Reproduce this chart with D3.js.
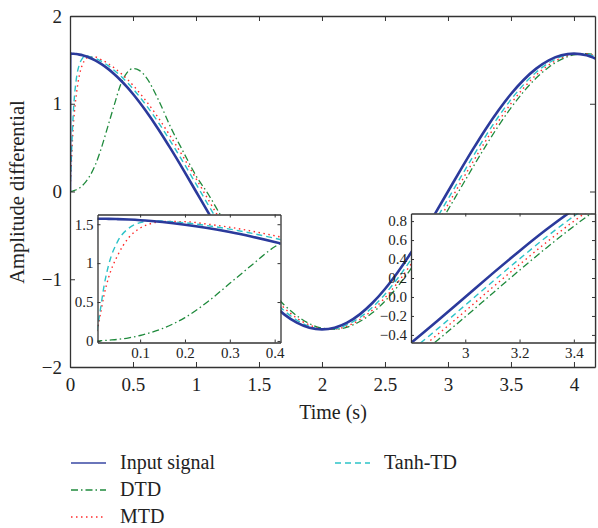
<!DOCTYPE html>
<html>
<head>
<meta charset="utf-8">
<script src="https://cdn.jsdelivr.net/npm/d3@7"></script>
<style>
  body { margin: 0; background: #fff; }
  svg text { font-family: "Liberation Serif", "DejaVu Serif", serif; fill: #222; }
</style>
</head>
<body>
<div id="chart"></div>
<script>
// time samples (s), shared by every series
const time = [0, 0.002, 0.01, 0.02, 0.03, 0.05, 0.075, 0.1, 0.125, 0.15, 0.2, 0.25, 0.3, 0.35, 0.4, 0.45, 0.5, 0.55, 0.6,
  0.7, 0.8, 0.9, 1.0, 1.1, 1.2, 1.3, 1.4, 1.5, 1.6, 1.7, 1.8, 1.9, 2.0, 2.1, 2.2, 2.3, 2.4, 2.5, 2.6, 2.7, 2.8, 2.9,
  3.0, 3.1, 3.2, 3.3, 3.4, 3.5, 3.6, 3.7, 3.8, 3.9, 4.0, 4.1, 4.17];

const inputSignal = [0, 1.571, 1.571, 1.570, 1.569, 1.566, 1.560, 1.552, 1.541, 1.528, 1.494, 1.451, 1.400, 1.339, 1.271, 1.195, 1.111, 1.020, 0.923,
  0.713, 0.485, 0.246, 0, -0.246, -0.485, -0.713, -0.923, -1.111, -1.271, -1.400, -1.494, -1.552, -1.571, -1.552, -1.494, -1.400, -1.271, -1.111, -0.923, -0.713, -0.485, -0.246,
  0, 0.246, 0.485, 0.713, 0.923, 1.111, 1.271, 1.400, 1.494, 1.552, 1.571, 1.552, 1.515];

const dtd = [0, 0, 0.002, 0.005, 0.01, 0.02, 0.04, 0.07, 0.11, 0.16, 0.30, 0.50, 0.74, 0.98, 1.21, 1.35, 1.40, 1.38, 1.31,
  1.05, 0.73, 0.45, 0.18, -0.037, -0.282, -0.520, -0.746, -0.953, -1.137, -1.293, -1.416, -1.506, -1.557, -1.571, -1.545, -1.482, -1.383, -1.249, -1.084, -0.893, -0.680, -0.450,
  -0.209, 0.037, 0.282, 0.520, 0.746, 0.953, 1.137, 1.293, 1.416, 1.506, 1.557, 1.571, 1.557];

const mtd = [0, 0.06, 0.30, 0.60, 0.82, 1.10, 1.33, 1.45, 1.51, 1.535, 1.533, 1.501, 1.461, 1.410, 1.352, 1.286, 1.211, 1.128, 1.039,
  0.842, 0.623, 0.391, 0.148, -0.099, -0.342, -0.578, -0.799, -1.002, -1.179, -1.327, -1.442, -1.522, -1.564, -1.568, -1.533, -1.461, -1.352, -1.211, -1.039, -0.842, -0.623, -0.391,
  -0.148, 0.099, 0.342, 0.578, 0.799, 1.002, 1.179, 1.327, 1.442, 1.522, 1.564, 1.568, 1.547];

const tanhTd = [0, 0.07, 0.35, 0.72, 0.98, 1.28, 1.45, 1.52, 1.545, 1.54, 1.518, 1.482, 1.437, 1.382, 1.320, 1.249, 1.170, 1.084, 0.991,
  0.789, 0.566, 0.331, 0.086, -0.160, -0.402, -0.635, -0.852, -1.048, -1.218, -1.359, -1.465, -1.536, -1.569, -1.563, -1.518, -1.437, -1.320, -1.170, -0.991, -0.789, -0.566, -0.331,
  -0.086, 0.160, 0.402, 0.635, 0.852, 1.048, 1.218, 1.359, 1.465, 1.536, 1.569, 1.563, 1.536];

const seriesNames = ["Input signal", "DTD", "MTD", "Tanh-TD"];
const mainXTicks = [0, 0.5, 1, 1.5, 2, 2.5, 3, 3.5, 4];
const mainYTicks = [-2, -1, 0, 1, 2];
const inset1XTicks = [0.1, 0.2, 0.3, 0.4];
const inset1YTicks = [0, 0.5, 1, 1.5];
const inset2XTicks = [3, 3.2, 3.4];
const inset2YTicks = [-0.4, -0.2, 0, 0.2, 0.4, 0.6, 0.8];

const width = 598;
const height = 528;

// styles for each series, drawn in this order so the input ends up on top
const styles = [
  { name: "DTD", values: dtd, color: "#1f8a3c", dash: "7,3,1.5,3", w: 1.3 },
  { name: "MTD", values: mtd, color: "#ff2a2a", dash: "1.5,3.5", w: 1.4 },
  { name: "Tanh-TD", values: tanhTd, color: "#2cc3c8", dash: "6,4", w: 1.4 },
  { name: "Input signal", values: inputSignal, color: "#2b3a9c", dash: null, w: 2.6 }
];

const svg = d3.select("#chart")
  .append("svg")
  .attr("width", width)
  .attr("height", height);

// draws one framed panel with inward ticks on all four sides
const drawPanel = (id, xDomain, xRange, yDomain, yRange, xTicks, yTicks, fontSize, tick, fmtX, fmtY, pad) => {
  const x = d3.scaleLinear().domain(xDomain).range(xRange);
  const y = d3.scaleLinear().domain(yDomain).range(yRange);
  const g = svg.append("g");

  g.append("rect")
    .attr("x", xRange[0]).attr("y", yRange[1])
    .attr("width", xRange[1] - xRange[0]).attr("height", yRange[0] - yRange[1])
    .attr("fill", "#fff");

  svg.append("defs").append("clipPath").attr("id", id)
    .append("rect")
    .attr("x", xRange[0]).attr("y", yRange[1])
    .attr("width", xRange[1] - xRange[0]).attr("height", yRange[0] - yRange[1]);

  const line = d3.line()
    .x((d, i) => x(time[i]))
    .y(d => y(d))
    .curve(d3.curveMonotoneX);

  const lines = g.append("g").attr("clip-path", `url(#${id})`);
  styles.forEach(s => {
    lines.append("path")
      .datum(s.values)
      .attr("d", line)
      .attr("fill", "none")
      .attr("stroke", s.color)
      .attr("stroke-width", s.w)
      .attr("stroke-dasharray", s.dash)
      .attr("stroke-linejoin", "round");
  });

  const axisStyle = a => {
    a.selectAll("path, line").attr("stroke", "#333");
    a.select(".domain").attr("stroke-width", 1.3);
    a.selectAll("text")
      .attr("font-family", "Liberation Serif, serif")
      .attr("font-size", fontSize)
      .attr("fill", "#222");
  };

  g.append("g")
    .attr("transform", `translate(0,${yRange[0]})`)
    .call(d3.axisBottom(x).tickValues(xTicks).tickSize(-tick).tickSizeOuter(0).tickPadding(pad[0]).tickFormat(fmtX))
    .call(axisStyle);
  g.append("g")
    .attr("transform", `translate(0,${yRange[1]})`)
    .call(d3.axisTop(x).tickValues(xTicks).tickSize(-tick).tickSizeOuter(0).tickFormat(""))
    .call(axisStyle);
  g.append("g")
    .attr("transform", `translate(${xRange[0]},0)`)
    .call(d3.axisLeft(y).tickValues(yTicks).tickSize(-tick).tickSizeOuter(0).tickPadding(pad[1]).tickFormat(fmtY))
    .call(axisStyle);
  g.append("g")
    .attr("transform", `translate(${xRange[1]},0)`)
    .call(d3.axisRight(y).tickValues(yTicks).tickSize(-tick).tickSizeOuter(0).tickFormat(""))
    .call(axisStyle);
};

// main plot
drawPanel("clip-main", [0, 4.167], [70, 595], [-2, 2], [367, 16],
  mainXTicks, mainYTicks, 19, 5, d3.format(""), d3.format(""), [11, 8]);

// zoom on the start
drawPanel("clip-in1", [0.005, 0.413], [97.5, 280.5], [-0.02, 1.625], [342.5, 214.5],
  inset1XTicks, inset1YTicks, 15, 3, d3.format(".1f"), d3.format(""), [5, 4]);

// zoom near t = 3 s
drawPanel("clip-in2", [2.8, 3.478], [411, 595], [-0.48, 0.88], [342.5, 213.5],
  inset2XTicks, inset2YTicks, 15, 3, d3.format(""), d3.format(".1f"), [5, 4]);

// axis titles
svg.append("text")
  .attr("x", 333).attr("y", 419)
  .attr("text-anchor", "middle")
  .style("font-size", "20px")
  .text("Time (s)");

svg.append("text")
  .attr("transform", "translate(24,192) rotate(-90)")
  .attr("text-anchor", "middle")
  .style("font-size", "20.5px")
  .text("Amplitude differential");

// legend, two columns
const legendPos = [
  { name: "Input signal", x: 71, y: 463 },
  { name: "DTD", x: 71, y: 490 },
  { name: "MTD", x: 71, y: 517 },
  { name: "Tanh-TD", x: 335, y: 463 }
];
const legend = svg.append("g");
legendPos.forEach(p => {
  const s = styles.find(d => d.name === p.name);
  legend.append("line")
    .attr("x1", p.x).attr("x2", p.x + 35)
    .attr("y1", p.y).attr("y2", p.y)
    .attr("stroke", s.color)
    .attr("stroke-opacity", p.name === "Input signal" ? 0.7 : 1)
    .attr("stroke-width", s.name === "Input signal" ? 1.8 : 1.4)
    .attr("stroke-dasharray", s.dash);
  legend.append("text")
    .attr("x", p.x + 49).attr("y", p.y + 6)
    .style("font-size", "20px")
    .text(p.name);
});
</script>
</body>
</html>
